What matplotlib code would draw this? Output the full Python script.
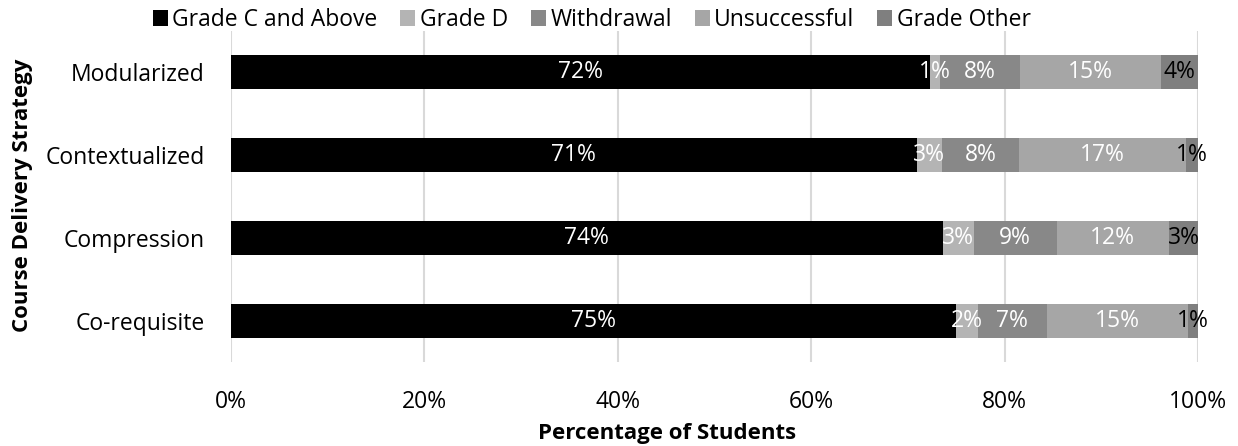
import matplotlib
matplotlib.use("Agg")
import matplotlib.pyplot as plt
import numpy as np

plt.rcParams['font.family'] = ['Open Sans', 'DejaVu Sans']

strategies = ["Modularized", "Contextualized", "Compression", "Co-requisite"]
series = ["Grade C and Above", "Grade D", "Withdrawal", "Unsuccessful", "Grade Other"]
# shares per strategy (%)
grade_c = [72.3, 70.9, 73.6, 75.0]
grade_d = [1.0, 2.6, 3.2, 2.2]
withdrawal = [8.3, 8.0, 8.6, 7.2]
unsuccessful = [14.6, 17.3, 11.6, 14.6]
grade_other = [3.8, 1.2, 3.0, 1.0]

colors = ["#000000", "#B4B4B4", "#888888", "#A6A6A6", "#7F7F7F"]
label_colors = ["white", "white", "white", "white", "black"]
fs = 16.5

fig = plt.figure(figsize=(12.38, 4.46), dpi=100)
ax = fig.add_axes([0.1866, 0.1883, 0.7811, 0.7422])

y = np.arange(len(strategies))
left = np.zeros(len(strategies))
for name, vals, c, lc in zip(series, [grade_c, grade_d, withdrawal, unsuccessful, grade_other], colors, label_colors):
    vals = np.array(vals)
    bars = ax.barh(y, vals, left=left, height=0.41, color=c, label=name, zorder=2)
    ax.bar_label(bars, labels=[f"{v:.0f}%" for v in vals], label_type="center",
                 color=lc, fontsize=fs)
    left += vals

ax.set_xlim(0, 100)
ax.set_ylim(len(strategies) - 0.5, -0.5)
ax.set_yticks(y)
ax.set_yticklabels(strategies, fontsize=fs)
ax.set_xticks(np.arange(0, 101, 20))
ax.set_xticklabels([f"{t}%" for t in range(0, 101, 20)], fontsize=fs)
ax.tick_params(axis='x', length=0, pad=20)
ax.tick_params(axis='y', length=0, pad=19)
ax.xaxis.grid(True, color="#D9D9D9", linewidth=1.5, zorder=0)
ax.set_axisbelow(True)
for s in ax.spines.values():
    s.set_visible(False)

ax.set_xlabel("Percentage of Students", fontsize=16, fontweight="bold", va="center")
ax.xaxis.set_label_coords(0.451, -0.215)
ax.set_ylabel("Course Delivery Strategy", fontsize=16, fontweight="bold", va="center")
ax.yaxis.set_label_coords(-0.216, 0.505)

fig.legend(loc="center", bbox_to_anchor=(0.478, 0.955), ncol=5, frameon=False,
           fontsize=fs, handlelength=0.65, handleheight=0.65, handletextpad=0.2,
           columnspacing=1.0, borderaxespad=0)

fig.savefig("out.png", dpi=100)
